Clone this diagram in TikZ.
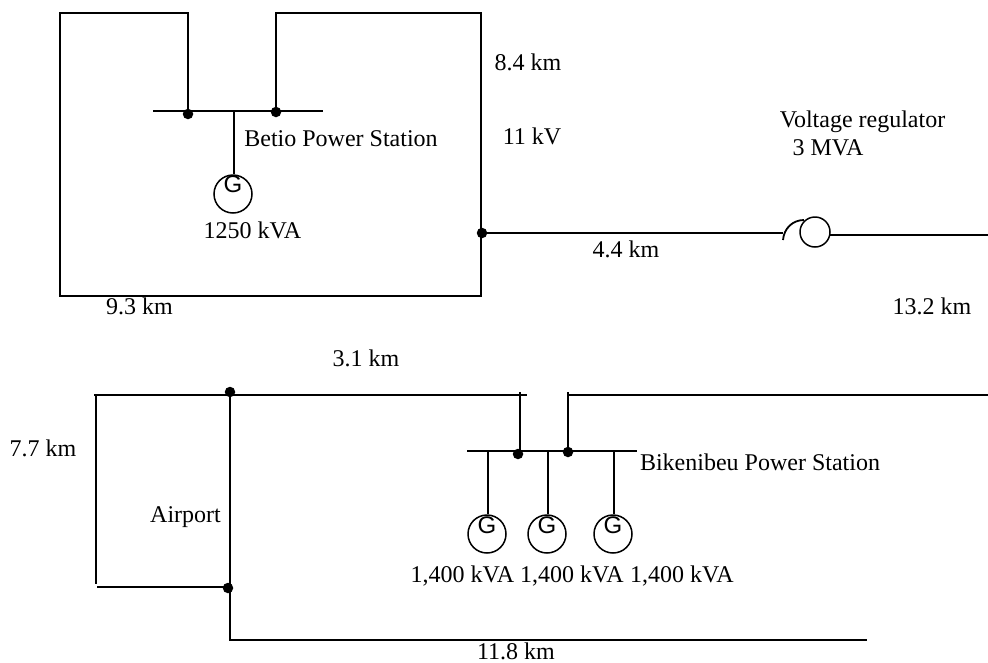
\documentclass[tikz,border=0pt]{standalone}
\usepackage{fontspec}
\setmainfont{Liberation Serif}
\newfontfamily\gfont{Liberation Sans}
\tikzset{
  wire/.style={draw,line width=1.8pt},
  dot/.style={circle,fill=black,inner sep=0pt,minimum size=10.5pt},
  gen/.style={draw,circle,line width=1.5pt,inner sep=0pt,minimum size=38pt},
  reg/.style={draw,circle,line width=1.5pt,inner sep=0pt,minimum size=30pt},
  gletter/.style={font=\gfont\fontsize{24}{24}\selectfont,inner sep=0pt},
  txt/.style={font=\fontsize{24}{24}\selectfont,inner sep=0pt,anchor=base}
}
\begin{document}
\begin{tikzpicture}[x=1pt,y=-1pt]
\useasboundingbox (0,0) rectangle (988,662);
% Betio network
\coordinate (a1) at (60,13);
\coordinate (a2) at (188,13);
\coordinate (a3) at (188,111);
\coordinate (a4) at (276,13);
\coordinate (a5) at (276,111);
\coordinate (a6) at (481,13);
\coordinate (a7) at (481,296);
\coordinate (a8) at (60,296);
\coordinate (b1) at (153,111);
\coordinate (b2) at (323,111);
\coordinate (b3) at (234,111);
\node[gen] (g1) at (233,194) {};
\node[gletter] (g1l) at (233,184) {G};
\node[dot] (d1) at (188,114) {};
\node[dot] (d2) at (276,112) {};
\node[dot] (d3) at (482,233) {};
\path[wire] (a3) -- (a2) -- (a1) -- (a8) -- (a7) -- (a6) -- (a4) -- (a5);
\path[wire] (b1) -- (b2);
\path[wire] (b3) -- (b3 |- g1.north);
% regulator
\node[reg] (r1) at (815,232) {};
\coordinate (r2) at (783,233);
\coordinate (r3) at (783,240);
\coordinate (r4) at (804,220);
\coordinate (r5) at (830,235);
\coordinate (e1) at (988,235);
\path[wire] (d3) -- (r2);
\path[wire] (r3) .. controls (784,228) and (793,220) .. (r4);
\path[wire] (r5) -- (e1);
% Bikenibeu network
\coordinate (c1) at (94,395);
\coordinate (c2) at (527,395);
\coordinate (c3) at (520,392);
\coordinate (c4) at (520,451);
\coordinate (c5) at (568,392);
\coordinate (c6) at (568,395);
\coordinate (c7) at (988,395);
\coordinate (c12) at (96,395);
\coordinate (c8) at (96,584);
\coordinate (c9) at (97,587);
\coordinate (c13) at (228,587);
\coordinate (c10) at (230,640);
\coordinate (c11) at (867,640);
\coordinate (h1) at (467,451);
\coordinate (h2) at (637,451);
\node[dot] (d4) at (230,392) {};
\node[dot] (d5) at (228,588) {};
\node[dot] (d6) at (518,454) {};
\node[dot] (d7) at (568,452) {};
\path[wire] (c1) -- (c2);
\path[wire] (c12) -- (c8);
\path[wire] (c3) -- (c4);
\path[wire] (c5) -- (d7);
\path[wire] (c6) -- (c7);
\path[wire] (c9) -- (c13);
\path[wire] (d4) -- (c10) -- (c11);
\path[wire] (h1) -- (h2);
% generators
\node[gen] (g2) at (487,534) {};
\node[gen] (g3) at (547,534) {};
\node[gen] (g4) at (613,534) {};
\node[gletter] (g2l) at (487,525) {G};
\node[gletter] (g3l) at (547,525) {G};
\node[gletter] (g4l) at (613,525) {G};
\coordinate (h3) at (488,451);
\coordinate (h4) at (548,451);
\coordinate (h5) at (614,451);
\path[wire] (h3) -- (h3 |- g2.north);
\path[wire] (h4) -- (h4 |- g3.north);
\path[wire] (h5) -- (h5 |- g4.north);
% labels
\node[txt] (t1) at (341,146) {Betio Power Station};
\node[txt] (t2) at (252.5,238) {1250 kVA};
\node[txt] (t3) at (528,70) {8.4 km};
\node[txt] (t4) at (532,144) {11 kV};
\node[txt] (t5) at (862.5,127) {Voltage regulator};
\node[txt] (t6) at (828,155) {3 MVA};
\node[txt] (t7) at (626,257) {4.4 km};
\node[txt] (t8) at (139.5,314) {9.3 km};
\node[txt] (t9) at (932,314) {13.2 km};
\node[txt] (t10) at (366,366) {3.1 km};
\node[txt] (t11) at (43,456) {7.7 km};
\node[txt] (t12) at (185.5,522) {Airport};
\node[txt] (t13) at (760,470) {Bikenibeu Power Station};
\node[txt] (t14) at (462.5,582) {1,400 kVA};
\node[txt] (t15) at (572,582) {1,400 kVA};
\node[txt] (t16) at (682,582) {1,400 kVA};
\node[txt] (t17) at (516,659) {11.8 km};
\end{tikzpicture}
\end{document}
